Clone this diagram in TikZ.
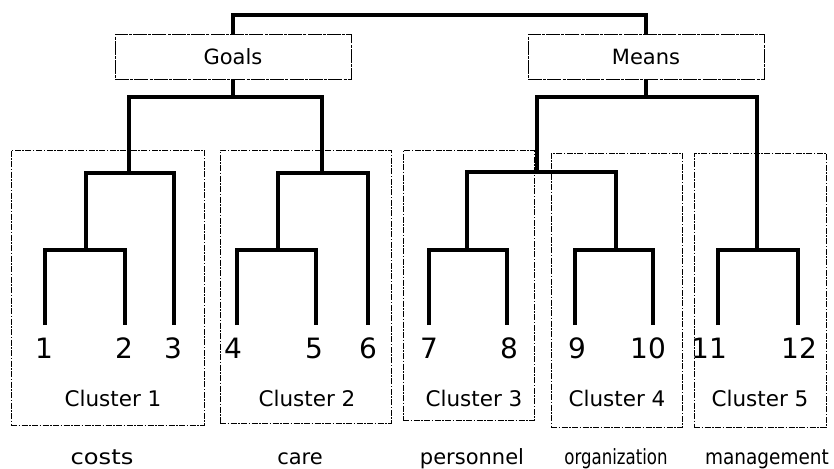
\documentclass[tikz,border=0pt]{standalone}
\usepackage{fontspec}
\setmainfont{DejaVu Sans}
\begin{document}
\begin{tikzpicture}[x=1pt,y=-1pt,
  tree/.style={line width=3.1pt},
  headbox/.style={draw, line width=0.9pt, dash pattern=on 14pt off 1.2pt on 3pt off 1.2pt, minimum width=236pt, minimum height=45pt, inner sep=0pt, font=\fontsize{21}{24}\selectfont},
  clusterbox/.style={draw, line width=0.7pt, dash pattern=on 6pt off 1.5pt on 1.5pt off 1.5pt, inner sep=0pt},
  numlbl/.style={anchor=base, inner sep=0pt, font=\fontsize{28}{30}\selectfont},
  clbl/.style={anchor=base, inner sep=0pt, font=\fontsize{21.5}{24}\selectfont},
  botlbl/.style={anchor=base, inner sep=0pt, font=\fontsize{21}{24}\selectfont}]
\useasboundingbox (0,0) rectangle (834,468);
\fill[white] (0,0) rectangle (834,468);

% cluster boxes
\node[clusterbox, minimum width=193pt, minimum height=275pt] (box1) at (107.5,287.5) {};
\node[clusterbox, minimum width=171pt, minimum height=273pt] (box2) at (305.5,286.5) {};
\node[clusterbox, minimum width=131pt, minimum height=270pt] (box3) at (468.5,285) {};
\node[clusterbox, minimum width=131pt, minimum height=274pt] (box4) at (616.5,290) {};
\node[clusterbox, minimum width=132pt, minimum height=274pt] (box5) at (760,290) {};

% head boxes
\node[headbox] (goals) at (233,56.5) {Goals};
\node[headbox] (means) at (646,56.5) {Means};

% leaves
\coordinate (l1) at (45,325);
\coordinate (l2) at (125,325);
\coordinate (l3) at (174,325);
\coordinate (l4) at (237,325);
\coordinate (l5) at (316,325);
\coordinate (l6) at (368,325);
\coordinate (l7) at (429,325);
\coordinate (l8) at (507,325);
\coordinate (l9) at (575,325);
\coordinate (l10) at (653,325);
\coordinate (l11) at (718,325);
\coordinate (l12) at (798,325);
% merge points
\coordinate (m12) at (86,250);
\coordinate (m123) at (129,173);
\coordinate (m45) at (278,250);
\coordinate (m456) at (322,173);
\coordinate (mg) at (233,97);
\coordinate (m78) at (467,250);
\coordinate (m910) at (616,250);
\coordinate (m710) at (537,172);
\coordinate (m1112) at (757,250);
\coordinate (mm) at (646,97);
\coordinate (top) at (440,15);

% tree
\draw[tree] (l1) |- (m12) -| (l2);
\draw[tree] (m12) |- (m123) -| (l3);
\draw[tree] (l4) |- (m45) -| (l5);
\draw[tree] (m45) |- (m456) -| (l6);
\draw[tree] (m123) |- (mg) -| (m456);
\draw[tree] (mg) -- (goals.south);
\draw[tree] (l7) |- (m78) -| (l8);
\draw[tree] (l9) |- (m910) -| (l10);
\draw[tree] (m78) |- (m710) -| (m910);
\draw[tree] (l11) |- (m1112) -| (l12);
\draw[tree] (m710) |- (mm) -| (m1112);
\draw[tree] (mm) -- (means.south);
\draw[tree] (goals.north) |- (top) -| (means.north);

% numbers
\node[numlbl] (n1) at (44,358) {1};
\node[numlbl] (n2) at (124,358) {2};
\node[numlbl] (n3) at (173,358) {3};
\node[numlbl] (n4) at (233,358) {4};
\node[numlbl] (n5) at (314,358) {5};
\node[numlbl] (n6) at (368,358) {6};
\node[numlbl] (n7) at (429,358) {7};
\node[numlbl] (n8) at (509,358) {8};
\node[numlbl] (n9) at (577,358) {9};
\node[numlbl] (n10) at (648,358) {10};
\node[numlbl] (n11) at (709,358) {11};
\node[numlbl] (n12) at (799,358) {12};

% cluster labels
\node[clbl] (c1) at (113,406) {Cluster 1};
\node[clbl] (c2) at (307,406) {Cluster 2};
\node[clbl] (c3) at (474,406) {Cluster 3};
\node[clbl] (c4) at (617,406) {Cluster 4};
\node[clbl] (c5) at (760,406) {Cluster 5};

% bottom labels
\node[botlbl] (b1) at (102,464) {\scalebox{1.15}[1]{costs}};
\node[botlbl] (b2) at (300,464) {care};
\node[botlbl] (b3) at (472,464) {personnel};
\node[botlbl] (b4) at (616,464) {\scalebox{0.79}[1]{organization}};
\node[botlbl] (b5) at (767,464) {\scalebox{0.88}[1]{management}};
\end{tikzpicture}
\end{document}
